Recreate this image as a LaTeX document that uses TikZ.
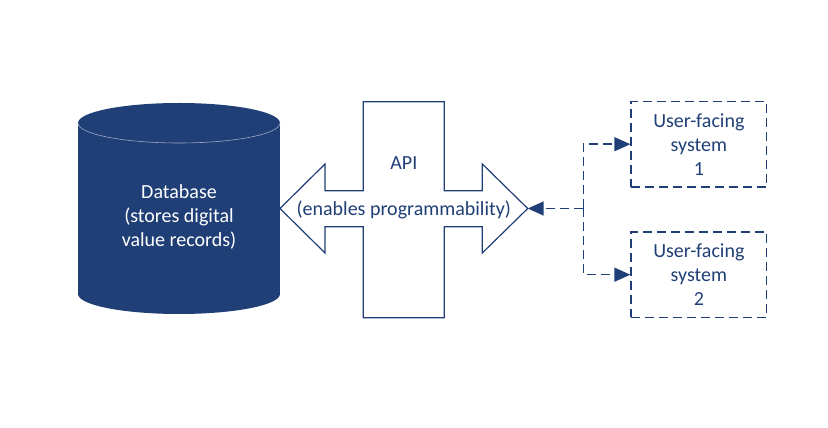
\documentclass[tikz,border=0pt]{standalone}
\usepackage{fontspec}
\setmainfont{Carlito}
\usetikzlibrary{arrows.meta}
\definecolor{navy}{HTML}{203F76}
\definecolor{seam}{HTML}{9AA8C4}
\tikzset{
  x=1pt, y=1pt,
  lbl/.style={align=center, inner sep=0pt, font=\fontsize{20}{24}\selectfont},
  userbox/.style={lbl, draw=navy, text=navy, line width=1.3pt, dash pattern=on 9pt off 5pt, minimum width=135.7pt, minimum height=85.5pt},
  conn/.style={draw=navy, line width=1.5pt, dash pattern=on 9pt off 5pt},
  tip/.style={-{Triangle[length=16pt,width=14pt]}},
  apishape/.style={draw=navy, fill=white, line width=1.2pt, line join=miter},
}
\begin{document}
\begin{tikzpicture}
\useasboundingbox (0,0) rectangle (828,428);
% cylinder
\fill[navy] (78,134) rectangle (280,305);
\fill[navy] (179,305) ellipse [x radius=101, y radius=20];
\fill[navy] (179,134) ellipse [x radius=101, y radius=20];
\draw[seam, line width=0.6pt] (78,305) arc[start angle=180, end angle=360, x radius=101, y radius=20];
\node[lbl, text=white] (db) at (179,211) {Database\\(stores digital\\value records)};
% API cross arrow
\draw[apishape] (363.3,326.3) -- (444.3,326.3) -- (444.3,237.3) -- (482.3,237.3) -- (482.3,264) -- (527.7,219.5) -- (482.3,175) -- (482.3,201.3) -- (444.3,201.3) -- (444.3,110.3) -- (363.3,110.3) -- (363.3,201.3) -- (325,201.3) -- (325,175) -- (280,219.5) -- (325,264) -- (325,237.3) -- (363.3,237.3) -- cycle;
\coordinate (apitip) at (527.7,219.5);
\node[lbl, text=navy] (apititle) at (403.8,265) {API};
\node[lbl, text=navy] (api) at (403.8,218) {(enables programmability)};
% user-facing systems
\node[userbox] (u1) at (698.85,283.8) {User-facing\\system\\1};
\node[userbox] (u2) at (698.85,153.3) {User-facing\\system\\2};
% connectors
\coordinate (j) at (583.3,219.5);
\draw[conn, tip] (j) -- (apitip);
\draw[conn, tip] (j) |- (u1.west);
\draw[conn, tip] (j) |- (u2.west);
\end{tikzpicture}
\end{document}
